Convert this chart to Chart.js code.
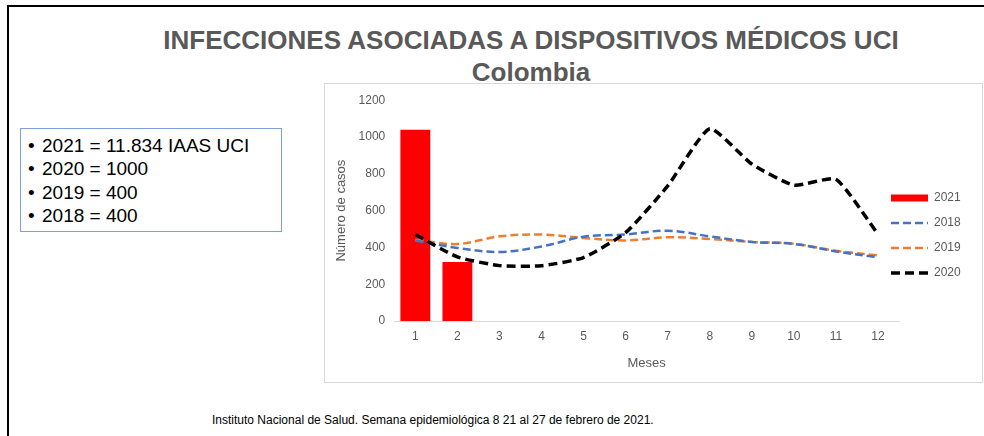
<!DOCTYPE html>
<html>
<head>
<meta charset="utf-8">
<script src="https://cdn.jsdelivr.net/npm/chart.js@4.4.1/dist/chart.umd.min.js"></script>
<style>
    body { margin: 0; background: #fff; font-family: "Liberation Sans", Arial, sans-serif; }
    #slide { position: relative; width: 984px; height: 436px; overflow: hidden; }
    .borde-top { position: absolute; left: 7px; top: 5px; right: 0; height: 2px; background: #000; }
    .borde-left { position: absolute; left: 7px; top: 5px; bottom: 0; width: 2px; background: #000; }
    .titulo { position: absolute; left: 131px; width: 800px; text-align: center; font-weight: bold;
        font-size: 26px; line-height: 26px; color: #595959; }
    #resumen { position: absolute; left: 20px; top: 128px; width: 262px; height: 104px; box-sizing: border-box;
        border: 1px solid #7f9fd8; padding-top: 5px; font-size: 19px; line-height: 23.3px; color: #000; }
    #resumen div { position: relative; padding-left: 21px; }
    #resumen div:before { content: "\2022"; position: absolute; left: 7px; }
    #resumen .iaas { position: absolute; left: 147px; }
    #cajaGrafico { position: absolute; left: 324px; top: 83px; width: 659px; height: 300px; box-sizing: border-box;
        border: 1px solid #d9d9d9; }
    #fuente { position: absolute; left: 212px; top: 413px; font-size: 12px; color: #000; }
</style>
</head>
<body>
<div id="slide">
    <div class="borde-top"></div>
    <div class="borde-left"></div>
    <div class="titulo" style="top: 27px;">INFECCIONES ASOCIADAS A DISPOSITIVOS MÉDICOS UCI</div>
    <div class="titulo" style="top: 59px;">Colombia</div>
    <div id="resumen">
        <div>2021 = 11.834<span class="iaas">IAAS UCI</span></div>
        <div>2020 = 1000</div>
        <div>2019 = 400</div>
        <div>2018 = 400</div>
    </div>
    <div id="cajaGrafico"><canvas id="chartIAAS" width="657" height="298"></canvas></div>
    <div id="fuente">Instituto Nacional de Salud. Semana epidemiológica 8 21 al 27 de febrero de 2021.</div>
</div>
<script>
const meses = ['1', '2', '3', '4', '5', '6', '7', '8', '9', '10', '11', '12'];
const casos2021 = [1040, 320, null, null, null, null, null, null, null, null, null, null];
const casos2018 = [438, 397, 375, 405, 458, 470, 491, 460, 430, 419, 378, 347];
const casos2019 = [442, 418, 460, 470, 451, 438, 455, 446, 430, 420, 382, 356];
const casos2020 = [470, 348, 301, 300, 345, 480, 734, 1045, 853, 738, 770, 472];
const ticksY = [0, 200, 400, 600, 800, 1000, 1200];

// la leyenda de Excel se monta un poco sobre el area del grafico
const moverLeyenda = {
    id: 'moverLeyenda',
    beforeLayout(chart) {
        const lg = chart.legend;
        if (lg && !lg._ajustada) {
            const fitOriginal = lg.fit;
            lg.fit = function () {
                fitOriginal.call(this);
                this.width = 83;
            };
            lg._ajustada = true;
        }
    },
    afterLayout(chart) {
        chart.legend.left -= 21;
        chart.legend.right -= 21;
    }
};

// con usePointStyle la leyenda pierde el guion de la serie, se lo devolvemos
function etiquetasLeyenda(chart) {
    const items = Chart.defaults.plugins.legend.labels.generateLabels(chart);
    return items.map(item => {
        const ds = chart.data.datasets[item.datasetIndex];
        if (ds.type === 'line') {
            item.lineDash = ds.borderDash;
            item.lineWidth = ds.borderWidth;
        }
        return item;
    });
}

const colorTexto = '#595959';
const ctx = document.getElementById('chartIAAS');
const chartIAAS = new Chart(ctx, {
    type: 'bar',
    data: {
        labels: meses,
        datasets: [{
            type: 'bar',
            label: '2021',
            data: casos2021,
            backgroundColor: '#ff0000',
            borderWidth: 0,
            pointStyle: 'rect',
            categoryPercentage: 1,
            barPercentage: 0.71,
            order: 2
        }, {
            type: 'line',
            label: '2018',
            data: casos2018,
            borderColor: '#4472c4',
            borderWidth: 2.5,
            borderDash: [8, 4],
            pointRadius: 0,
            pointStyle: 'line',
            tension: 0.35,
            order: 1
        }, {
            type: 'line',
            label: '2019',
            data: casos2019,
            borderColor: '#ed7d31',
            borderWidth: 2.5,
            borderDash: [8, 4],
            pointRadius: 0,
            pointStyle: 'line',
            tension: 0.35,
            order: 1
        }, {
            type: 'line',
            label: '2020',
            data: casos2020,
            borderColor: '#000000',
            borderWidth: 3.5,
            borderDash: [9, 5],
            pointRadius: 0,
            pointStyle: 'line',
            tension: 0.17,
            order: 0
        }]
    },
    options: {
        responsive: false,
        animation: false,
        devicePixelRatio: 1,
        layout: { padding: { top: 12, left: 1, right: 0, bottom: 7 } },
        plugins: {
            tooltip: { enabled: false },
            legend: {
                position: 'right',
                align: 'center',
                labels: {
                    usePointStyle: true,
                    pointStyleWidth: 37,
                    boxHeight: 7,
                    padding: 13,
                    color: colorTexto,
                    font: { family: 'Liberation Sans', size: 12 },
                    generateLabels: etiquetasLeyenda,
                    sort: (a, b) => a.datasetIndex - b.datasetIndex
                }
            }
        },
        scales: {
            x: {
                grid: { display: false, drawTicks: false },
                border: { display: true, color: '#d9d9d9', width: 1 },
                ticks: { padding: 8, color: colorTexto, font: { family: 'Liberation Sans', size: 12 } },
                title: {
                    display: true,
                    text: 'Meses',
                    color: colorTexto,
                    padding: { top: 4, bottom: 4 },
                    font: { family: 'Liberation Sans', size: 13 }
                }
            },
            y: {
                min: 0,
                max: 1200,
                afterBuildTicks: (axis) => { axis.ticks = ticksY.map(v => ({ value: v })); },
                grid: { display: false, drawTicks: false },
                border: { display: false },
                ticks: {
                    padding: 9,
                    color: colorTexto,
                    font: { family: 'Liberation Sans', size: 12 },
                    callback: (v) => String(v)
                },
                title: {
                    display: true,
                    text: 'Número de casos',
                    color: colorTexto,
                    padding: { top: 8, bottom: 0 },
                    font: { family: 'Liberation Sans', size: 13 }
                }
            }
        }
    },
    plugins: [moverLeyenda]
});
</script>
</body>
</html>
